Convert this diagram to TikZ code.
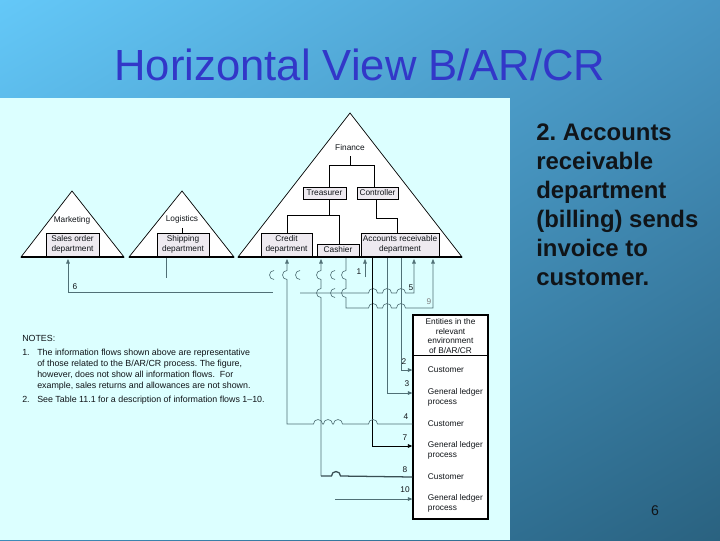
\documentclass[tikz,border=0pt]{standalone}
\usepackage{fontspec}
\setmainfont{Liberation Sans}
\usetikzlibrary{arrows.meta,shadings}
\frenchspacing
\definecolor{titel}{RGB}{50,55,200}
\definecolor{panel}{RGB}{220,255,255}
\definecolor{boxfill}{RGB}{238,234,240}
\definecolor{flowc}{RGB}{80,112,118}
\definecolor{ink}{RGB}{16,20,24}
\definecolor{bgul}{RGB}{100,200,248}
\definecolor{bgur}{RGB}{72,150,196}
\definecolor{bgll}{RGB}{60,140,185}
\definecolor{bglr}{RGB}{42,98,128}
\newcommand{\hoprad}{3.2pt}
\tikzset{
  every picture/.style={>={Triangle[length=3.2pt,width=2.6pt]}},
  % Schrift im Diagramm
  dia/.style={font=\fontsize{5.9}{6.8}\selectfont, text=ink},
  notes/.style={font=\fontsize{6.3}{7.8}\selectfont, text=ink, inner sep=0pt},
  lab/.style={dia, inner sep=0.5pt},
  % Formen
  tri/.style={draw, fill=white, line width=0.5pt},
  box/.style={draw, fill=boxfill, line width=0.5pt, inner sep=0pt, align=center, dia},
  base/.style={line width=2.1pt},
  org/.style={line width=0.45pt},
  % Informationsfluesse
  flow/.style={flowc, line width=0.45pt},
  flowdark/.style={black, line width=0.6pt},
  flowthick/.style={flowc!70!black, line width=0.9pt},
  % Bruecken ueber kreuzende Linien
  hop/.style 2 args={insert path={-- ([xshift=-\hoprad]#1,#2) arc[start angle=180,end angle=0,radius=\hoprad]}},
  vhop/.style 2 args={insert path={-- ([yshift=\hoprad]#1,#2) arc[start angle=90,end angle=270,radius=\hoprad]}},
}
\begin{document}
\begin{tikzpicture}[x=0.025cm,y=-0.025cm]
  \useasboundingbox (0,0) rectangle (720,540);
  % Hintergrund
  \shade[upper left=bgul, upper right=bgur, lower left=bgll, lower right=bglr] (0,0) rectangle (720,540);
  \fill[panel] (0,98) rectangle (510,540);
  \node[font=\fontsize{31}{31}\selectfont, text=titel, anchor=base] (title) at (360,80) {Horizontal View B/AR/CR};
  \node[font=\bfseries\fontsize{17}{20.5}\selectfont, text=ink, anchor=north west, align=left, inner sep=0pt] (info) at (536,124)
    {2. Accounts\\receivable\\department\\(billing) sends\\invoice to\\customer.};
  \node[font=\fontsize{10}{10}\selectfont, text=ink] (page) at (655,511) {6};

  % Dreiecke
  \draw[tri] (21,257) -- (72,191) -- (124,257) -- cycle;
  \draw[tri] (129,257) -- (182,191) -- (234,257) -- cycle;
  \draw[tri] (238,257) -- (350,113) -- (462,257) -- cycle;
  \node[dia] (marketing) at (72,220) {Marketing};
  \node[dia] (logistics) at (182,219) {Logistics};
  \node[dia] (finance) at (350,148) {Finance};

  % Abteilungen
  \node[box, minimum width=1.325cm, minimum height=0.575cm] (sales) at (72.5,244.5) {Sales order\\department};
  \node[box, minimum width=1.3cm, minimum height=0.575cm] (shipping) at (183,244.5) {Shipping\\department};
  \node[box, minimum width=1.075cm, minimum height=0.3cm] (treas) at (324.5,193) {Treasurer};
  \node[box, minimum width=1.025cm, minimum height=0.3cm] (contr) at (377.5,193) {Controller};
  \node[box, minimum width=1.275cm, minimum height=0.575cm] (credit) at (286.5,244.5) {Credit\\department};
  \node[box, minimum width=1.05cm, minimum height=0.3cm] (cashier) at (338,250) {Cashier};
  \node[box, minimum width=1.95cm, minimum height=0.575cm] (arec) at (400,244.5) {Accounts receivable\\department};

  % Organigramm
  \draw[org] (182,0 |- logistics.south) -- (182,0 |- shipping.north);
  \draw[org] (finance.south) -- (350,165);
  \draw[org] (329,0 |- treas.north) -- (329,165) -- (374,165) -- (374,0 |- contr.north);
  \draw[org] (329,0 |- treas.south) -- (329,215);
  \draw[org] (287,0 |- credit.north) -- (287,215) -- (339,215) -- (339,0 |- cashier.north);
  \draw[org] (376,0 |- contr.south) -- (376,218) -- (397,218) -- (397,0 |- arec.north);

  % Umwelt B/AR/CR
  \node[draw, fill=white, line width=0.9pt, minimum width=1.875cm, minimum height=5.1cm, inner sep=0pt] (env) at (450.5,417) {};
  \draw[line width=0.6pt] (env.west |- 0,355) -- (env.east |- 0,355);
  \node[dia, align=center] (envhead) at (450.5,336) {Entities in the\\relevant\\environment\\of B/AR/CR};
  \node[dia, anchor=west] (cust2) at (423,370) {Customer};
  \node[dia, anchor=west, align=left] (gl3) at (423,397.5) {General ledger\\process};
  \node[dia, anchor=west] (cust4) at (423,424) {Customer};
  \node[dia, anchor=west, align=left] (gl7) at (423,450.5) {General ledger\\process};
  \node[dia, anchor=west] (cust8) at (423,477) {Customer};
  \node[dia, anchor=west, align=left] (gl10) at (423,503.5) {General ledger\\process};

  \coordinate (base) at (0,259);
  % Fluesse 6, 5, 1
  \draw[flow,<-] (68,0 |- base) -- (68,292) -- (273,292);
  \draw[flow] (166,0 |- shipping.south) -- (166,278);
  \draw[flow,->] (300,293) [hop={373}{293}] [hop={387}{293}] [hop={401}{293}] -- (414,293) -- (414,0 |- base);
  \draw[flow,->] (365,277) -- (365,0 |- base);
  % Fluss 9
  \draw[flow,->] (346,0 |- cashier.south) [vhop={346}{275}] [vhop={346}{293}] -- (346,308)
    [hop={373}{308}] [hop={387}{308}] [hop={401}{308}] -- (433,308) -- (433,0 |- base);
  % Fluesse 2, 3, 7
  \draw[flow,->] (401,0 |- arec.south) -- (401,370) -- (env.west |- cust2);
  \draw[flow,->] (387,0 |- arec.south) -- (387,393) -- (env.west |- 0,393);
  \draw[flowdark,->] (372,0 |- arec.south) -- (372,446) -- (env.west |- 0,446);
  % Fluesse 4, 8, 10
  \draw[flow,<-] (287,0 |- base) [vhop={287}{275}] -- (287,424)
    [hop={318}{424}] [hop={328}{424}] [hop={338}{424}] [hop={373}{424}] -- (env.west |- cust4);
  \draw[flow,<-] (321,0 |- base) [vhop={321}{275}] [vhop={321}{293}] -- (321,476);
  \draw[flowthick] (321,476) [hop={336}{476}] -- (env.west |- cust8);
  \draw[flow,->] (335,499) -- (env.west |- 0,499);
  % Bruecken ohne sichtbare Linie
  \foreach \x/\y in {274/275, 300/275, 335/275, 335/293}
    \draw[flow] ([yshift=\hoprad]\x,\y) arc[start angle=90,end angle=270,radius=\hoprad];

  % Grundlinien
  \draw[base] (21,257) -- (124,257);
  \draw[base] (129,257) -- (234,257);
  \draw[base] (238,257) -- (462,257);

  % Nummern
  \node[lab] (n6) at (75,287) {6};
  \node[lab] (n5) at (411,288) {5};
  \node[lab] (n1) at (359,272) {1};
  \node[lab, text=gray] (n9) at (429,302) {9};
  \node[lab] (n2) at (404,362) {2};
  \node[lab] (n3) at (407,384) {3};
  \node[lab] (n4) at (406,417) {4};
  \node[lab] (n7) at (405,438) {7};
  \node[lab] (n8) at (405,470) {8};
  \node[lab] (n10) at (405,490) {10};

  % Anmerkungen
  \node[notes, anchor=west] (notehead) at (22,338) {NOTES:};
  \node[notes, anchor=north west] (note1num) at (22,349) {1.};
  \node[notes, anchor=north west, align=left] (note1) at (37,349)
    {The information flows shown above are representative\\of those related to the B/AR/CR process. The figure,\\however, does not show all information flows.\ \ For\\example, sales returns and allowances are not shown.};
  \node[notes, anchor=north west] (note2num) at (22,396) {2.};
  \node[notes, anchor=north west] (note2) at (37,396) {See Table 11.1 for a description of information flows 1--10.};
\end{tikzpicture}
\end{document}
